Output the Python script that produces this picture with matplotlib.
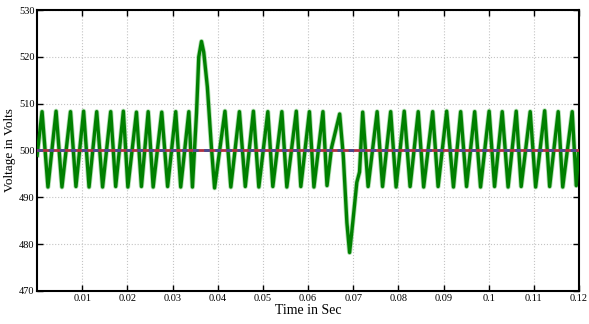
import matplotlib.pyplot as plt

plt.rcParams['font.family'] = ['Liberation Serif', 'DejaVu Serif']

# inverter output voltage: turning points (time in s, volts)
t_pts = [0.0, 0.0011, 0.0024, 0.0042, 0.0055, 0.0074, 0.0086, 0.0103, 0.0115,
         0.0132, 0.0145, 0.0163, 0.0174, 0.0191, 0.0201, 0.0220, 0.0231,
         0.0246, 0.0257, 0.0276, 0.0289, 0.0307, 0.0318, 0.0336, 0.0344,
         0.0353, 0.0358, 0.0364, 0.0369, 0.0377, 0.0386, 0.0393,
         0.0416, 0.0429, 0.0448, 0.0461, 0.0479, 0.0491, 0.0511, 0.0522,
         0.0542, 0.0553, 0.0574, 0.0584, 0.0603, 0.0613, 0.0633, 0.0642,
         0.0652, 0.0670, 0.0678, 0.0686, 0.0692, 0.0699, 0.0708, 0.0714, 0.0721,
         0.0733, 0.0753, 0.0765, 0.0783, 0.0795, 0.0813, 0.0826, 0.0844, 0.0856,
         0.0876, 0.0888, 0.0907, 0.0922, 0.0938, 0.0951, 0.0969, 0.0982, 0.1001,
         0.1013, 0.1030, 0.1043, 0.1061, 0.1072, 0.1092, 0.1104, 0.1124, 0.1135,
         0.1154, 0.1164, 0.1185, 0.1194, 0.1199]
v_pts = [499.0, 508.3, 492.2, 508.4, 492.2, 508.3, 492.3, 508.4, 492.2,
         508.3, 492.2, 508.3, 492.3, 508.4, 492.2, 508.2, 492.3,
         508.3, 492.2, 508.2, 492.3, 508.3, 492.2, 508.3, 492.2,
         508.0, 520.0, 523.3, 521.0, 513.6, 500.7, 492.0,
         508.4, 492.2, 508.3, 492.3, 508.4, 492.2, 508.3, 492.3,
         508.3, 492.2, 508.4, 492.3, 508.3, 492.2, 508.3, 492.5,
         500.6, 507.8, 498.9, 484.6, 478.2, 484.6, 493.2, 495.4, 508.2,
         492.3, 508.3, 492.3, 508.3, 492.2, 508.4, 492.3, 508.3, 492.2,
         508.3, 492.3, 508.4, 492.2, 508.3, 492.3, 508.3, 492.2, 508.4,
         492.3, 508.3, 492.2, 508.4, 492.3, 508.3, 492.2, 508.5, 492.3,
         508.3, 492.2, 508.3, 492.5, 499.5]

# reference voltage
ref_t = [0.0, 0.12]
ref_v = [500, 500]

x_ticks = [0.01, 0.02, 0.03, 0.04, 0.05, 0.06, 0.07, 0.08, 0.09, 0.1, 0.11, 0.12]
x_labels = ['0.01', '0.02', '0.03', '0.04', '0.05', '0.06', '0.07', '0.08',
            '0.09', '0.1', '0.11', '0.12']
y_ticks = [470, 480, 490, 500, 510, 520, 530]

fig = plt.figure(figsize=(5.89, 3.24), dpi=100)
ax = fig.add_axes([0.063, 0.102, 0.920, 0.867])

ax.plot(t_pts, v_pts, color='#7fc97f', linewidth=3.6, alpha=0.6, zorder=2,
        solid_joinstyle='round')
ax.plot(t_pts, v_pts, color='#008000', linewidth=2.4, zorder=3,
        solid_joinstyle='round')
ax.plot(ref_t, ref_v, color='#b03040', linewidth=2.0, zorder=4)
ax.plot(ref_t, ref_v, color='#4a4a90', linewidth=2.0, linestyle=(0, (2, 2)), zorder=5)

ax.set_xlim(0, 0.12)
ax.set_ylim(470, 530)
ax.set_xticks(x_ticks)
ax.set_xticklabels(x_labels)
ax.set_yticks(y_ticks)
ax.grid(True, color='#c4c4c4', linestyle=':', linewidth=0.8)
ax.tick_params(direction='in', top=True, right=True, length=4, width=1,
               labelsize=7.5, pad=2)
for s in ax.spines.values():
    s.set_linewidth(1.5)

ax.set_xlabel('Time in Sec', fontsize=10, labelpad=1)
ax.set_ylabel('Voltage in Volts', fontsize=9.5, labelpad=2)

fig.savefig('out.png', dpi=100)
